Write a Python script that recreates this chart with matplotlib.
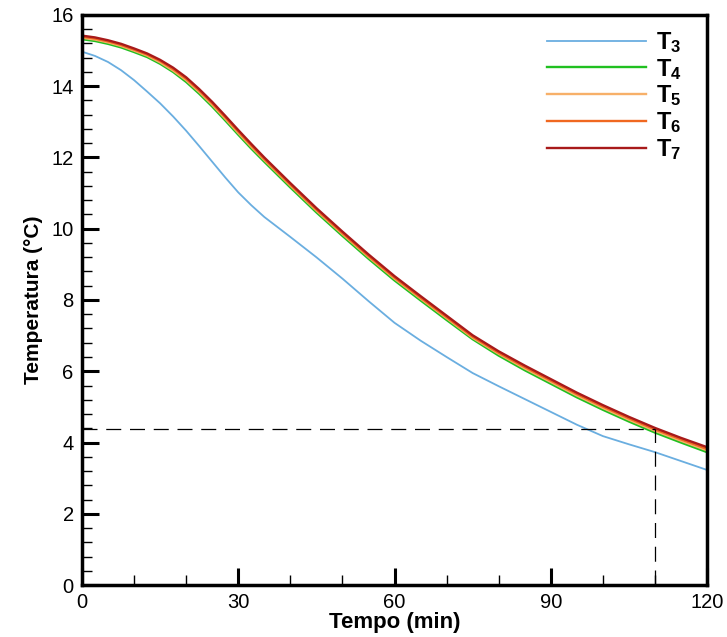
import matplotlib
matplotlib.use("Agg")
import matplotlib.pyplot as plt
from matplotlib.ticker import MultipleLocator

plt.rcParams['font.family'] = ['Liberation Sans', 'DejaVu Sans']
plt.rcParams['mathtext.fontset'] = 'custom'
plt.rcParams['mathtext.rm'] = 'Liberation Sans'
plt.rcParams['mathtext.bf'] = 'Liberation Sans:bold'

time = [0, 2.5, 5, 7.5, 10, 12.5, 15, 17.5, 20, 22.5, 25, 27.5, 30, 32.5, 35,
        40, 45, 50, 55, 60, 65, 70, 75, 80, 85, 90, 95, 100, 105, 110, 115, 120]

T3 = [14.97, 14.85, 14.68, 14.45, 14.17, 13.85, 13.52, 13.15, 12.75, 12.32, 11.88, 11.44, 11.02, 10.66, 10.33,
      9.77, 9.20, 8.60, 7.97, 7.36, 6.86, 6.40, 5.95, 5.58, 5.22, 4.86, 4.50, 4.18, 3.95, 3.73, 3.48, 3.23]
T4 = [15.32, 15.27, 15.19, 15.09, 14.96, 14.82, 14.63, 14.40, 14.12, 13.79, 13.43, 13.04, 12.64, 12.25, 11.88,
      11.16, 10.46, 9.80, 9.16, 8.55, 7.99, 7.44, 6.90, 6.44, 6.03, 5.65, 5.27, 4.92, 4.59, 4.28, 4.00, 3.73]
T5 = [15.36, 15.31, 15.23, 15.13, 15.00, 14.86, 14.67, 14.44, 14.17, 13.84, 13.48, 13.09, 12.69, 12.30, 11.93,
      11.21, 10.51, 9.85, 9.21, 8.60, 8.04, 7.49, 6.94, 6.49, 6.08, 5.70, 5.32, 4.97, 4.64, 4.33, 4.05, 3.78]
T6 = [15.39, 15.34, 15.26, 15.16, 15.03, 14.89, 14.71, 14.48, 14.21, 13.88, 13.52, 13.13, 12.73, 12.34, 11.96,
      11.24, 10.54, 9.88, 9.24, 8.63, 8.07, 7.52, 6.97, 6.52, 6.12, 5.74, 5.36, 5.01, 4.68, 4.37, 4.09, 3.82]
T7 = [15.42, 15.37, 15.29, 15.19, 15.06, 14.92, 14.74, 14.52, 14.25, 13.92, 13.56, 13.17, 12.77, 12.38, 12.00,
      11.28, 10.58, 9.92, 9.28, 8.67, 8.11, 7.56, 7.01, 6.56, 6.16, 5.78, 5.40, 5.05, 4.72, 4.41, 4.13, 3.87]

series = [T3, T4, T5, T6, T7]
labels = [r'$\mathbf{T_3}$', r'$\mathbf{T_4}$', r'$\mathbf{T_5}$', r'$\mathbf{T_6}$', r'$\mathbf{T_7}$']
colors = ['#6aaee0', '#20c020', '#f7b069', '#f06820', '#a81a1a']
widths = [1.3, 1.7, 1.7, 1.7, 1.7]

ref_time = 110
ref_temp = 4.38

fig = plt.figure(figsize=(7.27, 6.37), dpi=100)
ax = fig.add_axes([0.1128, 0.0816, 0.8597, 0.8949])

for s, lab, c, w in zip(series, labels, colors, widths):
    ax.plot(time, s, color=c, lw=w, label=lab)

ax.plot([0, ref_time], [ref_temp, ref_temp], color='black', lw=0.9, dashes=(12, 7))
ax.plot([ref_time, ref_time], [0, ref_temp], color='black', lw=0.9, dashes=(12, 7))

ax.set_xlim(0, 120)
ax.set_ylim(0, 16)
ax.xaxis.set_major_locator(MultipleLocator(30))
ax.xaxis.set_minor_locator(MultipleLocator(10))
ax.yaxis.set_major_locator(MultipleLocator(2))
ax.yaxis.set_minor_locator(MultipleLocator(0.4))
ax.tick_params(which='major', direction='in', length=12, width=2.2, labelsize=14.5, pad=6)
ax.tick_params(which='minor', direction='in', length=7, width=1)
for sp in ax.spines.values():
    sp.set_linewidth(2.5)

ax.set_xlabel('Tempo (min)', fontsize=16, fontweight='bold', labelpad=0)
ax.set_ylabel('Temperatura (°C)', fontsize=15, fontweight='bold', labelpad=6)

leg = ax.legend(loc='upper right', bbox_to_anchor=(0.993, 1.011), frameon=False,
                fontsize=17, handlelength=4.2, handletextpad=0.4, labelspacing=0.08)

fig.savefig('out.png', dpi=100)
